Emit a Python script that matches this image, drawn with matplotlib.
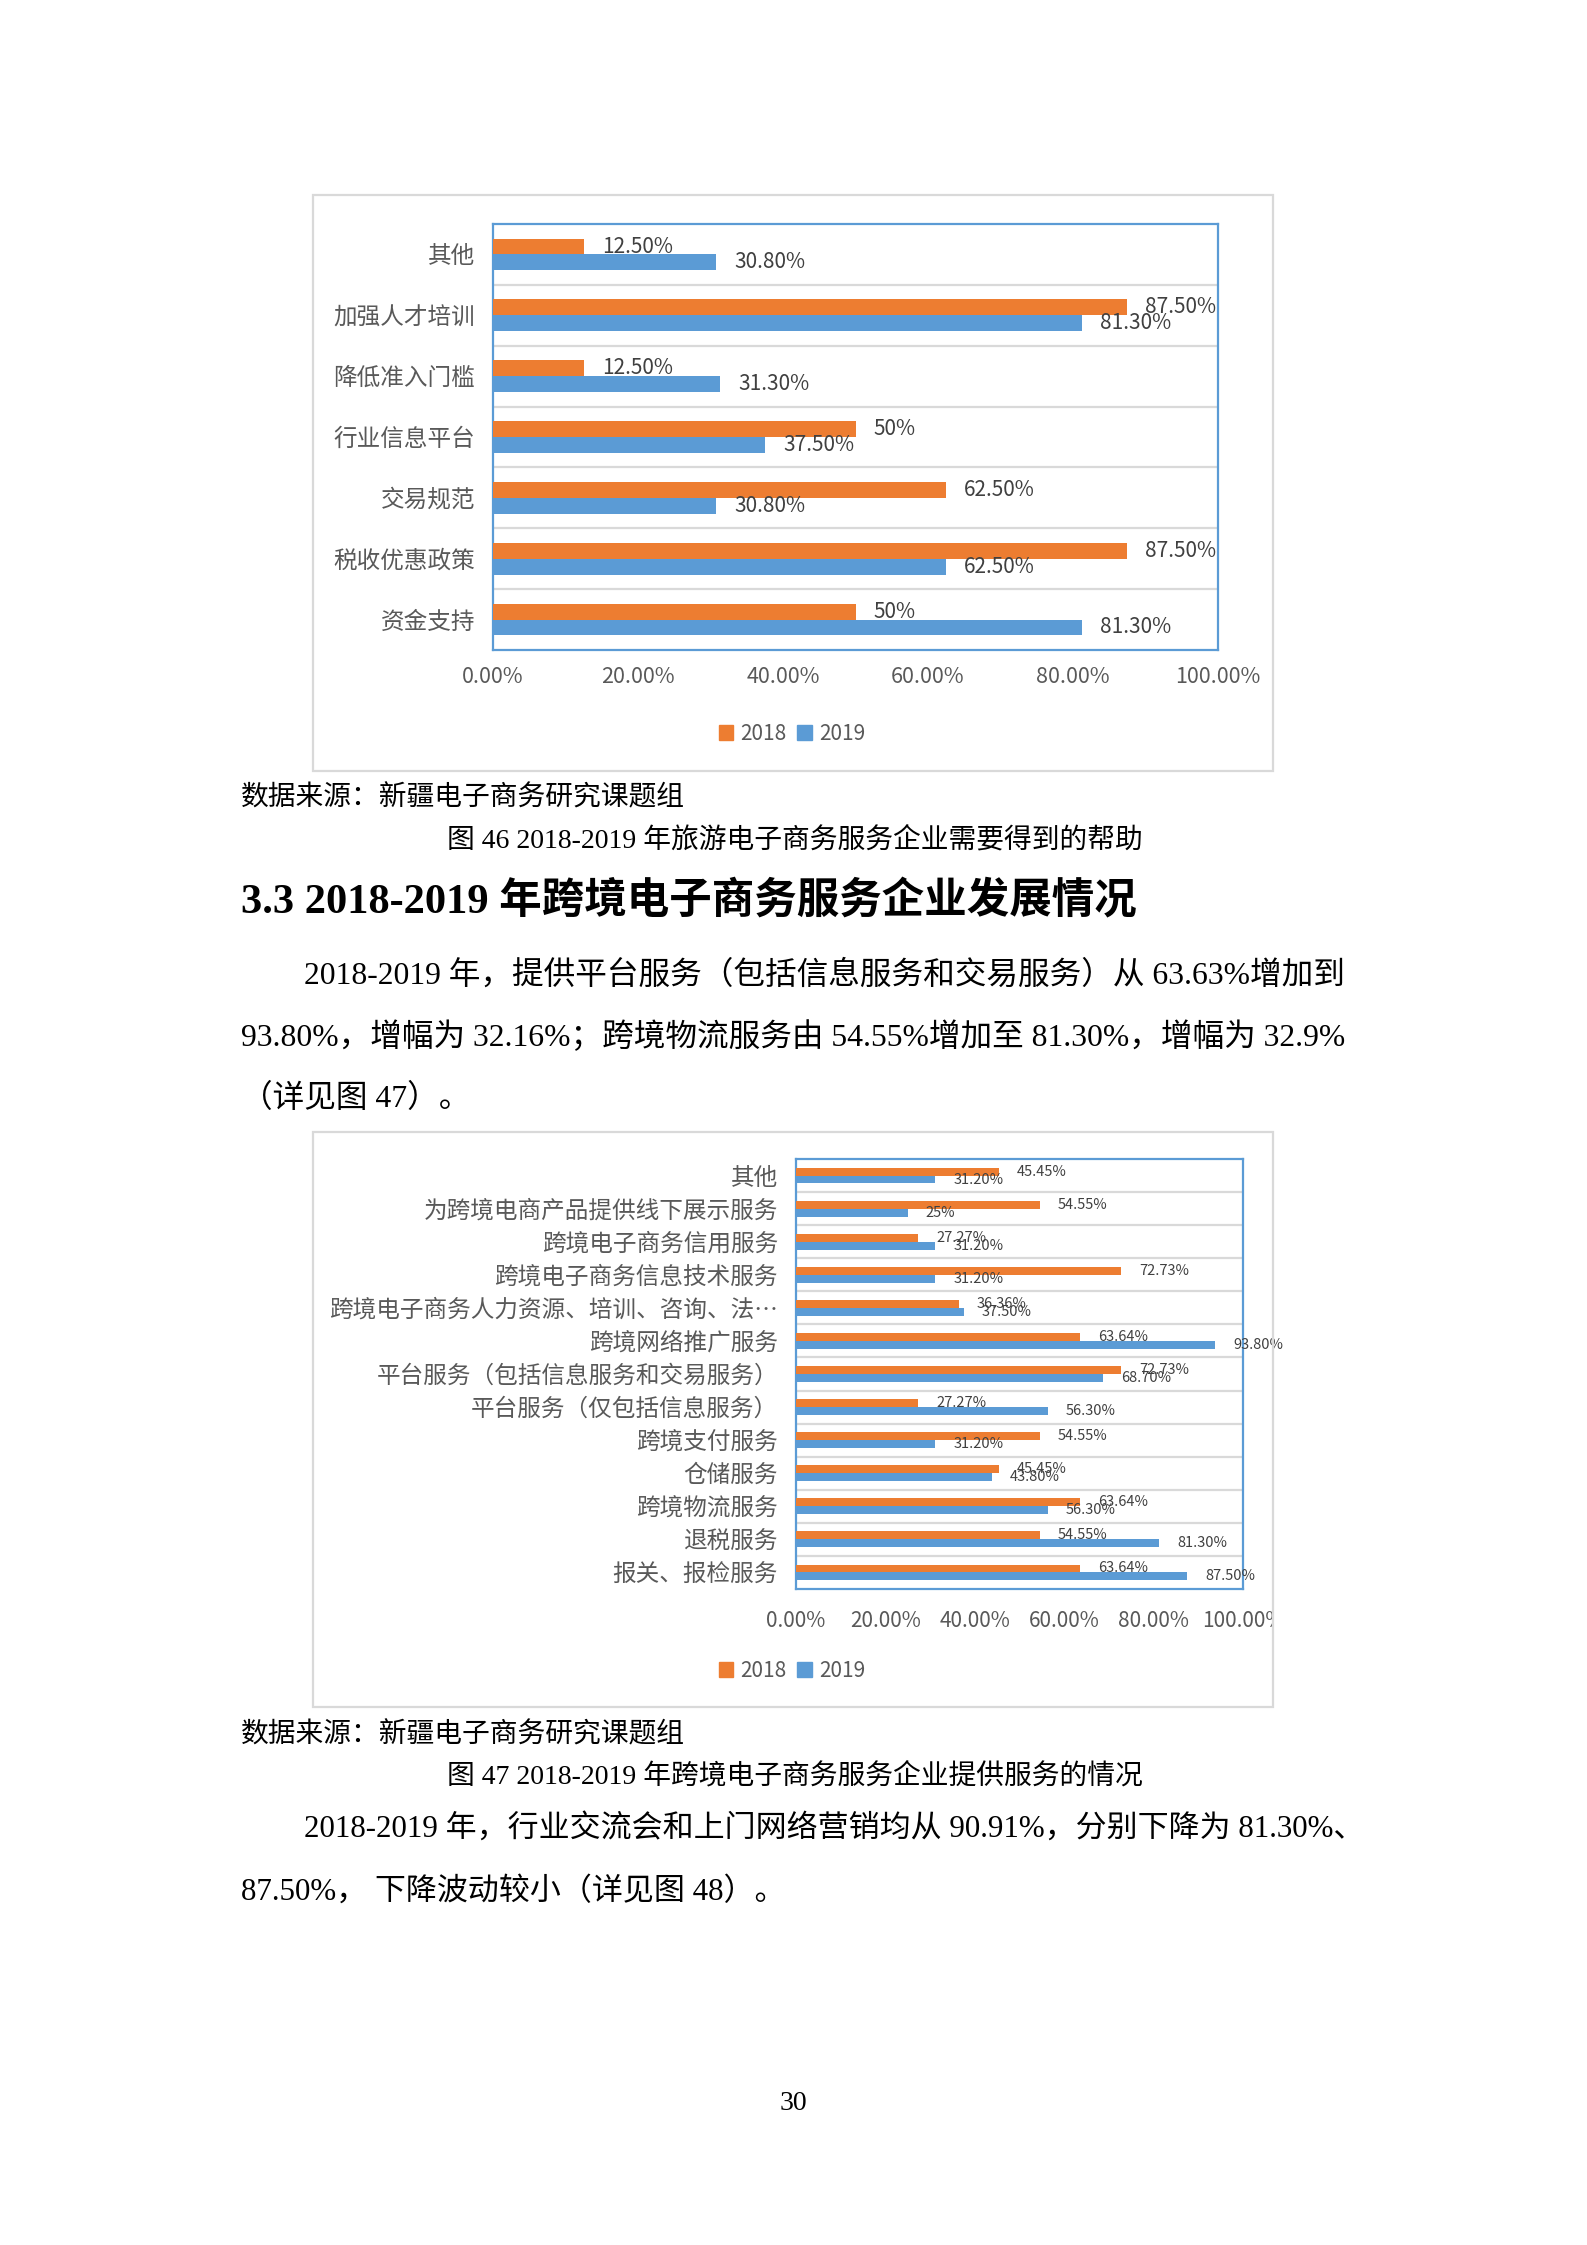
import numpy as np
import matplotlib
matplotlib.use("Agg")
import matplotlib.pyplot as plt
from matplotlib.patches import Rectangle, Patch
from matplotlib.transforms import Bbox, TransformedBbox

plt.rcParams['font.family'] = ['Noto Sans CJK SC', 'DejaVu Sans']

# 图 46 数据
cats46 = ['其他', '加强人才培训', '降低准入门槛', '行业信息平台', '交易规范', '税收优惠政策', '资金支持']
v46_2018 = [12.5, 87.5, 12.5, 50, 62.5, 87.5, 50]
v46_2019 = [30.8, 81.3, 31.3, 37.5, 30.8, 62.5, 81.3]
lab46_2018 = ['12.50%', '87.50%', '12.50%', '50%', '62.50%', '87.50%', '50%']
lab46_2019 = ['30.80%', '81.30%', '31.30%', '37.50%', '30.80%', '62.50%', '81.30%']

# 图 47 数据
cats47 = ['其他', '为跨境电商产品提供线下展示服务', '跨境电子商务信用服务', '跨境电子商务信息技术服务',
          '跨境电子商务人力资源、培训、咨询、法…', '跨境网络推广服务', '平台服务（包括信息服务和交易服务）',
          '平台服务（仅包括信息服务）', '跨境支付服务', '仓储服务', '跨境物流服务', '退税服务', '报关、报检服务']
v47_2018 = [45.45, 54.55, 27.27, 72.73, 36.36, 63.64, 72.73, 27.27, 54.55, 45.45, 63.64, 54.55, 63.64]
v47_2019 = [31.2, 25, 31.2, 31.2, 37.5, 93.8, 68.7, 56.3, 31.2, 43.8, 56.3, 81.3, 87.5]
lab47_2018 = ['45.45%', '54.55%', '27.27%', '72.73%', '36.36%', '63.64%', '72.73%', '27.27%',
              '54.55%', '45.45%', '63.64%', '54.55%', '63.64%']
lab47_2019 = ['31.20%', '25%', '31.20%', '31.20%', '37.50%', '93.80%', '68.70%', '56.30%',
              '31.20%', '43.80%', '56.30%', '81.30%', '87.50%']

xticks = [0, 20, 40, 60, 80, 100]
xtick_labels = ['0.00%', '20.00%', '40.00%', '60.00%', '80.00%', '100.00%']
years = ['2018', '2019']

ORANGE = '#ED7D31'
BLUE = '#5B9BD5'
GRID = '#D9D9D9'
TXT = '#595959'
LBL = '#404040'
BODY = ['Liberation Serif', 'Noto Sans CJK SC']

W, H = 1587, 2245
fig = plt.figure(figsize=(W / 100, H / 100), dpi=100)


def rect(x0, y0, x1, y1):
    return [x0 / W, 1 - y1 / H, (x1 - x0) / W, (y1 - y0) / H]


def box(x0, y0, x1, y1):
    fig.add_artist(Rectangle((x0 / W, 1 - y1 / H), (x1 - x0) / W, (y1 - y0) / H,
                             transform=fig.transFigure, fill=False, ec=GRID, lw=1.6))


def chart(r, cats, a, b, la, lb, bh, cat_fs, lbl_fs, tick_fs, xpad):
    ax = fig.add_axes(r)
    y = np.arange(len(cats))
    b1 = ax.barh(y - bh / 2, a, height=bh, color=ORANGE, zorder=3)
    b2 = ax.barh(y + bh / 2, b, height=bh, color=BLUE, zorder=3)
    ax.bar_label(b1, labels=la, padding=13, fontsize=lbl_fs, color=LBL)
    ax.bar_label(b2, labels=lb, padding=13, fontsize=lbl_fs, color=LBL)
    ax.set_xlim(0, 100)
    ax.set_ylim(len(cats) - 0.5, -0.5)
    for g in y[:-1] + 0.5:
        ax.axhline(g, color=GRID, lw=1.6, zorder=1)
    ax.set_yticks(y, cats)
    ax.set_xticks(xticks, xtick_labels)
    ax.tick_params(axis='y', length=0, pad=13, labelsize=cat_fs, labelcolor=TXT)
    ax.tick_params(axis='x', length=0, pad=xpad, labelsize=tick_fs, labelcolor=TXT)
    for s in ax.spines.values():
        s.set_color(BLUE)
        s.set_linewidth(1.6)
    return ax


def legend(cy):
    handles = [Patch(color=ORANGE), Patch(color=BLUE)]
    fig.legend(handles, years, loc='center', bbox_to_anchor=(792 / W, 1 - cy / H), ncol=2,
               frameon=False, fontsize=15, handlelength=0.7, handleheight=0.7,
               handletextpad=0.35, columnspacing=0.5, labelcolor=TXT)


# 图 46
box(313, 195, 1273, 771)
chart(rect(493, 224, 1218, 650), cats46, v46_2018, v46_2019, lab46_2018, lab46_2019,
      0.26, 17, 15, 15.5, 11.5)
legend(734)

# 图 47
box(313, 1132, 1273, 1707)
ax2 = chart(rect(796, 1159, 1243, 1589), cats47, v47_2018, v47_2019, lab47_2018, lab47_2019,
            0.24, 17, 10.5, 15, 15)
clip = TransformedBbox(Bbox([[313 / W, 1 - 1707 / H], [1272 / W, 1 - 1132 / H]]), fig.transFigure)
for t in ax2.get_xticklabels():
    t.set_clip_box(clip)
    t.set_clip_on(True)
legend(1671)


def body(x, y, s, fs=22.5, **kw):
    kw.setdefault('fontweight', 300)
    fig.text(x / W, 1 - (y + 3) / H, s, fontsize=fs, family=BODY, va='center', color='black', **kw)


body(241, 795, '数据来源：新疆电子商务研究课题组', 20)
body(795, 837, '图 46 2018-2019 年旅游电子商务服务企业需要得到的帮助', 20, ha='center')
body(241, 899, '3.3 2018-2019 年跨境电子商务服务企业发展情况', 30.6, fontweight='bold')
body(304, 972, '2018-2019 年，提供平台服务（包括信息服务和交易服务）从 63.63%增加到', 22.8)
body(241, 1034, '93.80%，增幅为 32.16%；跨境物流服务由 54.55%增加至 81.30%，增幅为 32.9%', 22.8)
body(241, 1096, '（详见图 47）。', 22.8)
body(241, 1732, '数据来源：新疆电子商务研究课题组', 20)
body(795, 1773, '图 47 2018-2019 年跨境电子商务服务企业提供服务的情况', 20, ha='center')
body(304, 1826, '2018-2019 年，行业交流会和上门网络营销均从 90.91%，分别下降为 81.30%、', 22.3)
body(241, 1889, '87.50%， 下降波动较小（详见图 48）。', 22.3)
body(793, 2100, '30', 20, ha='center')

fig.savefig('out.png', dpi=100)
